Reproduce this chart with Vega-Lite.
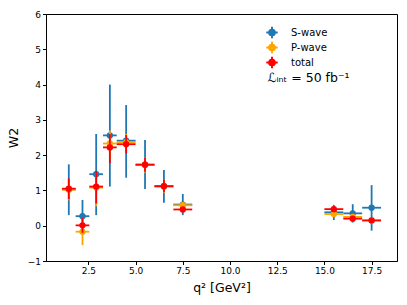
{
  "$schema": "https://vega.github.io/schema/vega-lite/v6.json",
  "width": 351,
  "height": 247,
  "autosize": {"type": "none"},
  "padding": {"left": 46, "top": 14, "right": 10, "bottom": 44},
  "background": "white",
  "config": {
    "font": "DejaVu Sans",
    "view": {"stroke": "black", "strokeWidth": 1},
    "axis": {
      "domainColor": "black", "tickColor": "black", "labelColor": "black", "titleColor": "black",
      "grid": false, "labelFont": "DejaVu Sans", "labelFontSize": 9, "tickSize": 3.5, "labelOverlap": false,
      "titleFont": "DejaVu Sans", "titleFontWeight": "normal", "titleFontSize": 12.5
    }
  },
  "data": {
    "values": [
      {"series": "S-wave", "x": 1.4625, "xlo": 1.1, "xhi": 1.825, "y": 1.03, "ylo": 0.30, "yhi": 1.74},
      {"series": "S-wave", "x": 2.1875, "xlo": 1.825, "xhi": 2.55, "y": 0.27, "ylo": -0.18, "yhi": 0.73},
      {"series": "S-wave", "x": 2.9125, "xlo": 2.55, "xhi": 3.275, "y": 1.46, "ylo": 0.30, "yhi": 2.60},
      {"series": "S-wave", "x": 3.6375, "xlo": 3.275, "xhi": 4.0, "y": 2.56, "ylo": 1.11, "yhi": 4.0},
      {"series": "S-wave", "x": 4.5, "xlo": 4.0, "xhi": 5.0, "y": 2.41, "ylo": 1.36, "yhi": 3.42},
      {"series": "S-wave", "x": 5.5, "xlo": 5.0, "xhi": 6.0, "y": 1.73, "ylo": 1.04, "yhi": 2.43},
      {"series": "S-wave", "x": 6.5, "xlo": 6.0, "xhi": 7.0, "y": 1.12, "ylo": 0.65, "yhi": 1.58},
      {"series": "S-wave", "x": 7.5, "xlo": 7.0, "xhi": 8.0, "y": 0.60, "ylo": 0.30, "yhi": 0.90},
      {"series": "S-wave", "x": 15.5, "xlo": 15.0, "xhi": 16.0, "y": 0.38, "ylo": 0.16, "yhi": 0.59},
      {"series": "S-wave", "x": 16.5, "xlo": 16.0, "xhi": 17.0, "y": 0.35, "ylo": 0.09, "yhi": 0.61},
      {"series": "S-wave", "x": 17.5, "xlo": 17.0, "xhi": 18.0, "y": 0.51, "ylo": -0.14, "yhi": 1.15},
      {"series": "P-wave", "x": 1.4625, "xlo": 1.1, "xhi": 1.825, "y": 1.02, "ylo": 0.72, "yhi": 1.32},
      {"series": "P-wave", "x": 2.1875, "xlo": 1.825, "xhi": 2.55, "y": -0.17, "ylo": -0.55, "yhi": 0.21},
      {"series": "P-wave", "x": 2.9125, "xlo": 2.55, "xhi": 3.275, "y": 1.08, "ylo": 0.55, "yhi": 1.5},
      {"series": "P-wave", "x": 3.6375, "xlo": 3.275, "xhi": 4.0, "y": 2.33, "ylo": 1.9, "yhi": 2.7},
      {"series": "P-wave", "x": 4.5, "xlo": 4.0, "xhi": 5.0, "y": 2.36, "ylo": 2.1, "yhi": 2.6},
      {"series": "P-wave", "x": 5.5, "xlo": 5.0, "xhi": 6.0, "y": 1.72, "ylo": 1.5, "yhi": 1.95},
      {"series": "P-wave", "x": 6.5, "xlo": 6.0, "xhi": 7.0, "y": 1.11, "ylo": 0.93, "yhi": 1.3},
      {"series": "P-wave", "x": 7.5, "xlo": 7.0, "xhi": 8.0, "y": 0.58, "ylo": 0.5, "yhi": 0.66},
      {"series": "P-wave", "x": 15.5, "xlo": 15.0, "xhi": 16.0, "y": 0.33, "ylo": 0.27, "yhi": 0.39},
      {"series": "P-wave", "x": 16.5, "xlo": 16.0, "xhi": 17.0, "y": 0.25, "ylo": 0.19, "yhi": 0.31},
      {"series": "P-wave", "x": 17.5, "xlo": 17.0, "xhi": 18.0, "y": 0.15, "ylo": 0.09, "yhi": 0.21},
      {"series": "total", "x": 1.4625, "xlo": 1.1, "xhi": 1.825, "y": 1.05, "ylo": 0.75, "yhi": 1.34},
      {"series": "total", "x": 2.1875, "xlo": 1.825, "xhi": 2.55, "y": 0.01, "ylo": -0.2, "yhi": 0.22},
      {"series": "total", "x": 2.9125, "xlo": 2.55, "xhi": 3.275, "y": 1.11, "ylo": 0.63, "yhi": 1.55},
      {"series": "total", "x": 3.6375, "xlo": 3.275, "xhi": 4.0, "y": 2.22, "ylo": 1.77, "yhi": 2.6},
      {"series": "total", "x": 4.5, "xlo": 4.0, "xhi": 5.0, "y": 2.31, "ylo": 2.05, "yhi": 2.57},
      {"series": "total", "x": 5.5, "xlo": 5.0, "xhi": 6.0, "y": 1.73, "ylo": 1.53, "yhi": 1.93},
      {"series": "total", "x": 6.5, "xlo": 6.0, "xhi": 7.0, "y": 1.12, "ylo": 0.95, "yhi": 1.3},
      {"series": "total", "x": 7.5, "xlo": 7.0, "xhi": 8.0, "y": 0.46, "ylo": 0.39, "yhi": 0.53},
      {"series": "total", "x": 15.5, "xlo": 15.0, "xhi": 16.0, "y": 0.47, "ylo": 0.41, "yhi": 0.53},
      {"series": "total", "x": 16.5, "xlo": 16.0, "xhi": 17.0, "y": 0.20, "ylo": 0.14, "yhi": 0.26},
      {"series": "total", "x": 17.5, "xlo": 17.0, "xhi": 18.0, "y": 0.15, "ylo": 0.09, "yhi": 0.21}
    ]
  },
  "encoding": {
    "x": {"type": "quantitative", "scale": {"domain": [0.255, 18.845], "nice": false, "zero": false},
          "axis": {"values": [2.5, 5, 7.5, 10, 12.5, 15, 17.5], "format": ".1f", "title": "q² [GeV²]", "titlePadding": 6, "labelOverlap": false}},
    "y": {"type": "quantitative", "scale": {"domain": [-1, 6], "nice": false, "zero": false},
          "axis": {"values": [-1, 0, 1, 2, 3, 4, 5, 6], "format": "d", "title": "W2", "titlePadding": 7, "labelOverlap": false, "tickCount": 8}}
  },
  "layer": [
    {
      "transform": [{"filter": "datum.series === 'S-wave'"}],
      "mark": {"type": "rule", "strokeWidth": 1.8, "color": "#1f77b4"},
      "encoding": {"x": {"field": "x"}, "y": {"field": "ylo"}, "y2": {"field": "yhi"}}
    },
    {
      "transform": [{"filter": "datum.series === 'S-wave'"}],
      "mark": {"type": "rule", "strokeWidth": 1.8, "color": "#1f77b4"},
      "encoding": {"x": {"field": "xlo"}, "x2": {"field": "xhi"}, "y": {"field": "y"}}
    },
    {
      "transform": [{"filter": "datum.series === 'S-wave'"}],
      "mark": {"type": "point", "filled": true, "size": 40, "opacity": 1},
      "encoding": {"x": {"field": "x"}, "y": {"field": "y"},
        "color": {"field": "series", "type": "nominal",
          "scale": {"domain": ["S-wave", "P-wave", "total"], "range": ["#1f77b4", "#ffa500", "#ff0000"]},
          "legend": {"title": null, "orient": "none", "legendX": 219, "legendY": 12, "padding": 0,
            "symbolType": "M-1,0L1,0M0,-1L0,1M0.5,0A0.5,0.5,0,1,1,-0.5,0A0.5,0.5,0,1,1,0.5,0Z",
            "symbolSize": 130, "symbolStrokeWidth": 2, "symbolOpacity": 1, "labelFontSize": 10, "labelColor": "black", "labelFont": "DejaVu Sans",
            "rowPadding": 2, "clipHeight": 13, "labelOffset": 12,
            "encode": {"symbols": {"update": {"stroke": {"scale": "color", "field": "value"}, "fill": {"scale": "color", "field": "value"}}}}}}}
    },
    {
      "transform": [{"filter": "datum.series === 'P-wave'"}],
      "mark": {"type": "rule", "strokeWidth": 1.8, "color": "#ffa500"},
      "encoding": {"x": {"field": "x"}, "y": {"field": "ylo"}, "y2": {"field": "yhi"}}
    },
    {
      "transform": [{"filter": "datum.series === 'P-wave'"}],
      "mark": {"type": "rule", "strokeWidth": 1.8, "color": "#ffa500"},
      "encoding": {"x": {"field": "xlo"}, "x2": {"field": "xhi"}, "y": {"field": "y"}}
    },
    {
      "transform": [{"filter": "datum.series === 'P-wave'"}],
      "mark": {"type": "point", "filled": true, "size": 40, "opacity": 1},
      "encoding": {"x": {"field": "x"}, "y": {"field": "y"}, "color": {"field": "series", "type": "nominal"}}
    },
    {
      "transform": [{"filter": "datum.series === 'total'"}],
      "mark": {"type": "rule", "strokeWidth": 1.8, "color": "#ff0000"},
      "encoding": {"x": {"field": "x"}, "y": {"field": "ylo"}, "y2": {"field": "yhi"}}
    },
    {
      "transform": [{"filter": "datum.series === 'total'"}],
      "mark": {"type": "rule", "strokeWidth": 1.8, "color": "#ff0000"},
      "encoding": {"x": {"field": "xlo"}, "x2": {"field": "xhi"}, "y": {"field": "y"}}
    },
    {
      "transform": [{"filter": "datum.series === 'total'"}],
      "mark": {"type": "point", "filled": true, "size": 40, "opacity": 1},
      "encoding": {"x": {"field": "x"}, "y": {"field": "y"}, "color": {"field": "series", "type": "nominal"}}
    },
    {
      "data": {"values": [{"label": "ℒᵢₙₜ = 50 fb⁻¹"}]},
      "mark": {"type": "text", "align": "left", "baseline": "middle", "fontSize": 12.5, "font": "DejaVu Sans", "color": "black"},
      "encoding": {"x": {"datum": 11.98}, "y": {"datum": 4.2}, "text": {"field": "label"}}
    }
  ]
}
